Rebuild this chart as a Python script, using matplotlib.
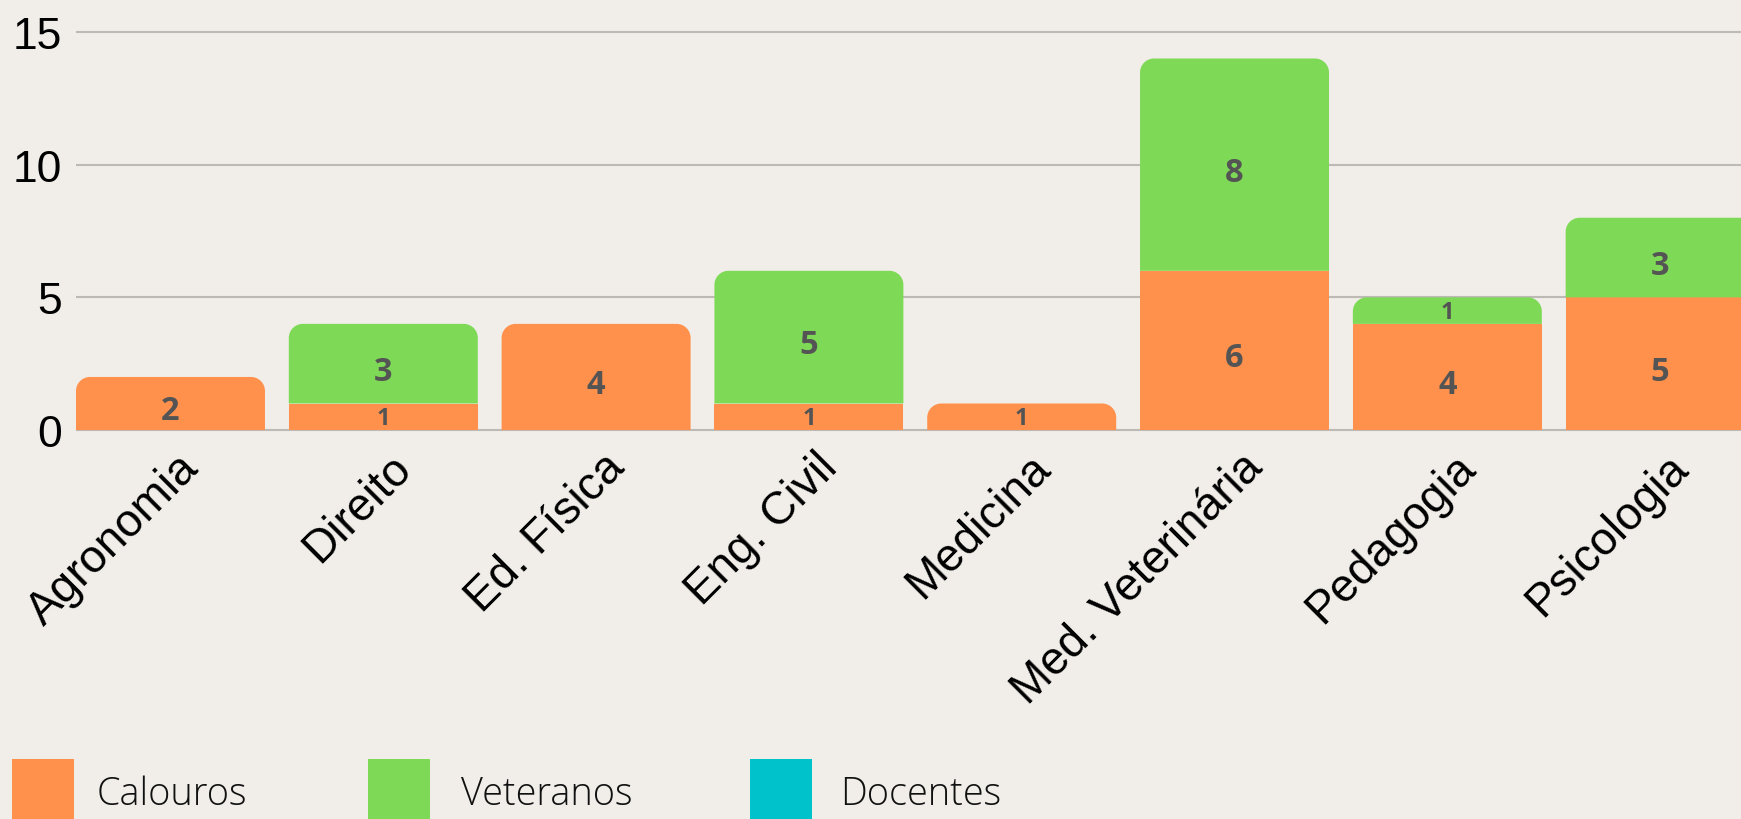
import matplotlib
matplotlib.use('Agg')
import matplotlib.pyplot as plt
from matplotlib.patches import PathPatch, Rectangle
from matplotlib.path import Path
from matplotlib.transforms import ScaledTranslation

categories = ['Agronomia', 'Direito', 'Ed. Física', 'Eng. Civil', 'Medicina',
              'Med. Veterinária', 'Pedagogia', 'Psicologia']
calouros = [2, 1, 4, 1, 1, 6, 4, 5]
veteranos = [0, 3, 0, 5, 0, 8, 1, 3]
docentes = [0, 0, 0, 0, 0, 0, 0, 0]

series_names = ['Calouros', 'Veteranos', 'Docentes']
series_colors = ['#ff914d', '#7ed957', '#00c2cb']
yticks = [0, 5, 10, 15]

BG = '#f1eee9'
W, H = 1741, 820
BAR_W = 0.888
RADIUS = 14  # px


def rounded_top_path(x0, x1, y0, y1, rx, ry):
    k = 0.5523
    verts = [(x0, y0), (x0, y1 - ry),
             (x0, y1 - ry + k * ry), (x0 + rx - k * rx, y1), (x0 + rx, y1),
             (x1 - rx, y1),
             (x1 - rx + k * rx, y1), (x1, y1 - ry + k * ry), (x1, y1 - ry),
             (x1, y0), (x0, y0)]
    codes = [Path.MOVETO, Path.LINETO,
             Path.CURVE4, Path.CURVE4, Path.CURVE4,
             Path.LINETO,
             Path.CURVE4, Path.CURVE4, Path.CURVE4,
             Path.LINETO, Path.CLOSEPOLY]
    return Path(verts, codes)


fig = plt.figure(figsize=(W / 100, H / 100), dpi=100, facecolor=BG)
ax = fig.add_axes([76 / W, (820 - 439) / H, 1665 / W, 414 / H])
ax.set_facecolor(BG)
ax.set_xlim(-0.444, 7.380)
ax.set_ylim(-0.3, 15.3)

for s in ax.spines.values():
    s.set_visible(False)
ax.set_axisbelow(True)
ax.yaxis.grid(True, color='#bdb9b4', linewidth=1.5)
ax.set_yticks(yticks)
ax.set_yticklabels([str(t) for t in yticks], fontsize=32,
                   family='Liberation Sans', color='black')
ax.tick_params(axis='y', length=0, pad=10)
ax.set_xticks([])

# pixel -> data unit conversion for the rounded corners
fig.canvas.draw()
p0 = ax.transData.transform((0, 0))
p1 = ax.transData.transform((1, 1))
rx = RADIUS / (p1[0] - p0[0])
ry = RADIUS / (p1[1] - p0[1])

all_series = [calouros, veteranos, docentes]
for i in range(len(categories)):
    bottom = 0
    for si, vals in enumerate(all_series):
        v = vals[i]
        if v == 0:
            continue
        is_top = all(s[i] == 0 for s in all_series[si + 1:])
        x0, x1 = i - BAR_W / 2, i + BAR_W / 2
        if is_top:
            patch = PathPatch(rounded_top_path(x0, x1, bottom, bottom + v,
                                               rx, ry),
                              facecolor=series_colors[si], edgecolor='none',
                              zorder=2)
            ax.add_patch(patch)
        else:
            ax.bar(i, v, width=BAR_W, bottom=bottom,
                   color=series_colors[si], linewidth=0, zorder=2)
        # baseline a bit below the segment centre
        size = 17 if v == 1 else 23.5
        drop = (7 if v == 1 else 16) / 100
        lbl_off = ScaledTranslation(0, -drop, fig.dpi_scale_trans)
        ax.text(i, bottom + v / 2, str(v), ha='center', va='baseline',
                fontsize=size, fontweight='bold', family='Open Sans',
                color='#545454', zorder=3,
                transform=ax.transData + lbl_off)
        bottom += v

# category labels, rotated
offset = ScaledTranslation(30 / 100, -39 / 100, fig.dpi_scale_trans)
for i, name in enumerate(categories):
    ax.text(i, 0, name, transform=ax.transData + offset,
            rotation=45, rotation_mode='anchor', ha='right', va='baseline',
            fontsize=33, family='Liberation Sans', color='black',
            clip_on=False)

# legend
legend_sq_x = [12, 367.5, 749.5]
legend_tx_x = [97, 461, 840.5]
for name, color, sx, tx in zip(series_names, series_colors,
                               legend_sq_x, legend_tx_x):
    fig.add_artist(Rectangle((sx / W, (820 - 822) / H), 62 / W, 62 / H,
                             transform=fig.transFigure, facecolor=color,
                             edgecolor='none'))
    fig.text(tx / W, (820 - 795) / H, name, ha='left', va='center',
             fontsize=27.3, family='Open Sans', fontweight='light',
             color='#111111')

fig.savefig('out.png', dpi=100, facecolor=BG)
